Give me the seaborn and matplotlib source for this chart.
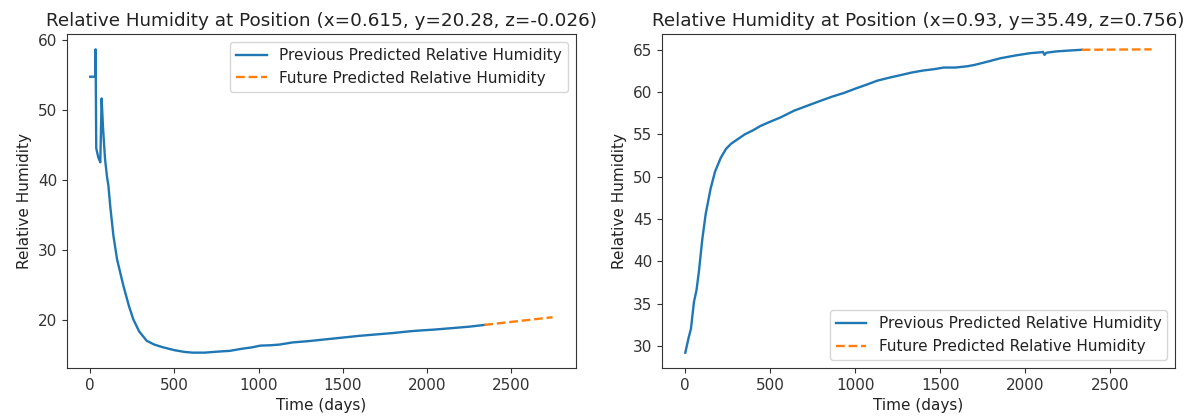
import matplotlib
matplotlib.use("Agg")
import matplotlib.pyplot as plt
import seaborn as sns
import pandas as pd

# Position 1 (x=0.615, y=20.28, z=-0.026)
left_prev_days = [0, 30, 32, 36, 48, 60, 68, 76, 88, 100, 108, 120, 138, 160, 197, 230, 256, 290,
                  335, 380, 434, 500, 560, 607, 680, 760, 828, 900, 960, 1010, 1070, 1124, 1200,
                  1300, 1400, 1500, 1600, 1700, 1800, 1900, 1955, 2050, 2150, 2250, 2340]
left_prev_rh = [54.7, 54.7, 58.6, 44.5, 43.2, 42.5, 51.6, 47.5, 43.0, 40.4, 39.2, 36.0, 32.0, 28.6,
                24.9, 22.0, 20.1, 18.4, 17.05, 16.5, 16.1, 15.7, 15.45, 15.35, 15.35, 15.5, 15.6,
                15.9, 16.1, 16.35, 16.4, 16.5, 16.8, 17.0, 17.25, 17.5, 17.75, 17.95, 18.15, 18.4,
                18.5, 18.65, 18.85, 19.05, 19.3]
left_future_days = [2340, 2745]
left_future_rh = [19.3, 20.4]

# Position 2 (x=0.93, y=35.49, z=0.756)
right_prev_days = [0, 20, 33, 51, 66, 80, 100, 120, 149, 175, 208, 240, 270, 306, 350, 400, 443,
                   500, 560, 640, 720, 800, 870, 934, 1000, 1070, 1130, 1200, 1266, 1330, 1400,
                   1462, 1521, 1590, 1659, 1700, 1760, 1855, 1950, 2030, 2090, 2105, 2114, 2125,
                   2180, 2250, 2333]
right_prev_rh = [29.2, 31.0, 32.0, 35.2, 36.6, 38.8, 42.6, 45.6, 48.6, 50.6, 52.2, 53.3, 53.9,
                 54.4, 55.0, 55.5, 56.0, 56.5, 57.0, 57.8, 58.4, 59.0, 59.5, 59.9, 60.4, 60.9,
                 61.35, 61.7, 62.0, 62.3, 62.55, 62.7, 62.9, 62.9, 63.05, 63.2, 63.5, 64.0, 64.35,
                 64.6, 64.7, 64.75, 64.4, 64.65, 64.8, 64.9, 65.0]
right_future_days = [2333, 2745]
right_future_rh = [65.0, 65.05]

titles = ["Relative Humidity at Position (x=0.615, y=20.28, z=-0.026)",
          "Relative Humidity at Position (x=0.93, y=35.49, z=0.756)"]
prev_label = "Previous Predicted Relative Humidity"
future_label = "Future Predicted Relative Humidity"

plt.rcParams.update({
    "font.size": 11,
    "xtick.labelsize": 11,
    "ytick.labelsize": 11,
    "axes.labelsize": 11,
    "legend.fontsize": 11,
    "text.color": "#222222",
    "axes.labelcolor": "#222222",
    "xtick.color": "#333333",
    "ytick.color": "#333333",
    "axes.edgecolor": "#333333",
})

fig = plt.figure(figsize=(11.87, 4.17), dpi=100)
ax1 = fig.add_axes([0.0565, 0.118, 0.4285, 0.80])
ax2 = fig.add_axes([0.5577, 0.118, 0.4322, 0.80])

panels = [
    (ax1, left_prev_days, left_prev_rh, left_future_days, left_future_rh, "upper right"),
    (ax2, right_prev_days, right_prev_rh, right_future_days, right_future_rh, "lower right"),
]

for (ax, pd_, pr, fd, fr, loc), title in zip(panels, titles):
    prev = pd.DataFrame({"days": pd_, "rh": pr})
    fut = pd.DataFrame({"days": fd, "rh": fr})
    sns.lineplot(data=prev, x="days", y="rh", ax=ax, color="#1f77b4", linewidth=1.7,
                 estimator=None, sort=False, label=prev_label)
    sns.lineplot(data=fut, x="days", y="rh", ax=ax, color="#ff7f0e", linewidth=1.7,
                 linestyle="--", estimator=None, sort=False, label=future_label)
    ax.set_title(title, fontsize=13.2)
    ax.set_xlabel("Time (days)")
    ax.set_ylabel("Relative Humidity")
    ax.set_xticks([0, 500, 1000, 1500, 2000, 2500])
    ax.legend(loc=loc)

ax1.set_yticks([20, 30, 40, 50, 60])
ax2.set_yticks([30, 35, 40, 45, 50, 55, 60, 65])

fig.savefig("out.png", dpi=100)
